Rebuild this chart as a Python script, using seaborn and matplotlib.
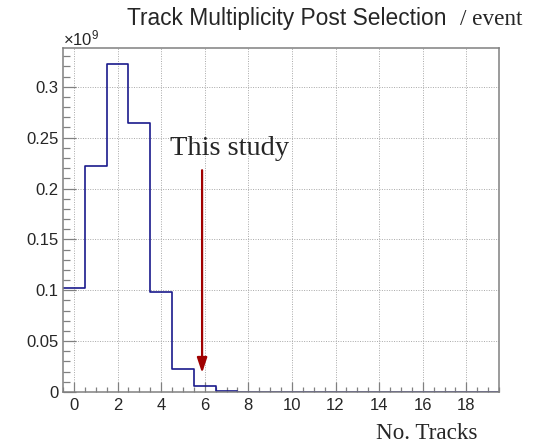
import numpy as np
import pandas as pd
import matplotlib
matplotlib.use("Agg")
import matplotlib.pyplot as plt
from matplotlib.ticker import MultipleLocator, FuncFormatter
import seaborn as sns

# Track multiplicity per event (counts), one bin per integer track number
n_tracks = list(range(20))
events = [1.02e8, 2.22e8, 3.225e8, 2.643e8, 0.98e8, 0.223e8, 0.062e8, 0.013e8,
          0.003e6, 0.0, 0.0, 0.0, 0.0, 0.0, 0.0, 0.0, 0.0, 0.0, 0.0, 0.0]
scale = 1e9
x_ticks = [0, 2, 4, 6, 8, 10, 12, 14, 16, 18]
y_ticks = [0, 0.05, 0.1, 0.15, 0.2, 0.25, 0.3]
selected_tracks = 5.88
arrow_top, arrow_tip = 0.218, 0.0187

df = pd.DataFrame({"tracks": n_tracks, "events": np.array(events) / scale})

sns.set_style("white")
plt.rcParams["font.family"] = ["Liberation Sans", "DejaVu Sans"]
plt.rcParams["mathtext.fontset"] = "custom"
plt.rcParams["mathtext.rm"] = "Liberation Sans"
plt.rcParams["mathtext.it"] = "Liberation Sans"

W, H = 537, 443
fig = plt.figure(figsize=(W / 100, H / 100), dpi=100)
ax = fig.add_axes([63 / W, 1 - 392 / H, (499 - 63) / W, (392 - 47.5) / H])

sns.histplot(data=df, x="tracks", weights="events", bins=20, binrange=(-0.5, 19.5),
             element="step", fill=False, color="#1a1a8c", linewidth=1.2, ax=ax)

ax.set_xlim(-0.5, 19.5)
ax.set_ylim(0, 1.05 * max(events) / scale)
ax.set_xlabel("")
ax.set_ylabel("")

frame = "#808080"
for s in ax.spines.values():
    s.set_color(frame)
    s.set_linewidth(1.1)

ax.set_xticks(x_ticks)
ax.xaxis.set_minor_locator(MultipleLocator(0.5))
ax.set_yticks(y_ticks)
ax.yaxis.set_minor_locator(MultipleLocator(0.01))
ax.yaxis.set_major_formatter(FuncFormatter(lambda v, p: f"{v:.2f}".rstrip("0").rstrip(".")))

ax.tick_params(which="both", bottom=True, left=True, top=False, right=False)
ax.tick_params(axis="x", which="major", direction="in", length=7.5, width=0.9,
               color=frame, labelsize=12, pad=4)
ax.tick_params(axis="x", which="minor", direction="in", length=3.7, width=0.9, color=frame)
ax.tick_params(axis="y", which="major", direction="in", length=9.5, width=0.9,
               color=frame, labelsize=12, pad=3)
ax.tick_params(axis="y", which="minor", direction="in", length=4.7, width=0.9, color=frame)

ax.grid(True, which="major", color="#a8a8a8", linestyle=(0, (1, 1.5)), linewidth=0.7)
ax.set_axisbelow(True)

ax.annotate("", xy=(selected_tracks, arrow_tip), xytext=(selected_tracks, arrow_top),
            arrowprops=dict(arrowstyle="-|>,head_width=0.3,head_length=0.9",
                            color="#a00000", lw=1.6, shrinkA=0, shrinkB=0))
ax.text(4.41, 0.2329, "This study", family="Liberation Serif", fontsize=20.5,
        ha="left", va="baseline")

fig.text(63 / W, 1 - 45.5 / H, r"$\times10^{9}$", fontsize=12, ha="left", va="baseline")

fig.text(478 / W, 1 - 439 / H, "No. Tracks", family="Liberation Serif",
         fontsize=16.7, ha="right", va="baseline")

# Title: sans part followed by a serif unit
ty = 1 - 25 / H
fig.text(127 / W, ty, "Track Multiplicity Post Selection",
         family="Liberation Sans", fontsize=16.4, ha="left", va="baseline")
fig.text(522 / W, ty, "/ event", family="Liberation Serif", fontsize=16.7,
         ha="right", va="baseline")

fig.savefig("out.png", dpi=100)
